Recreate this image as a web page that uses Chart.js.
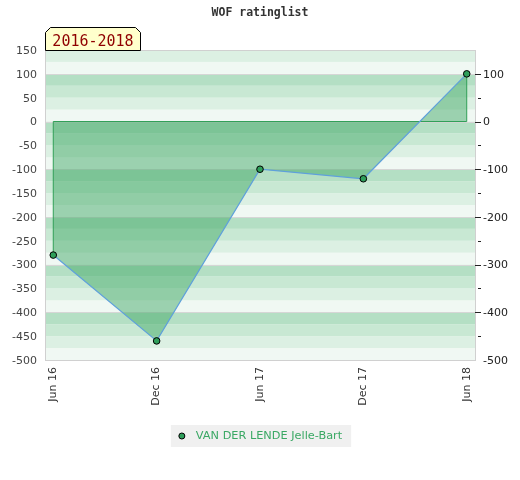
<!DOCTYPE html>
<html>
<head>
<meta charset="utf-8">
<script src="https://cdn.jsdelivr.net/npm/chart.js@4/dist/chart.umd.min.js"></script>
<style>
html,body{margin:0;padding:0;background:#fff;}
#wrap{width:520px;height:480px;}
</style>
</head>
<body>
<div id="wrap"><canvas id="c" width="520" height="480"></canvas></div>
<script>
const categories = ["Jun 16", "Dec 16", "Jun 17", "Dec 17", "Jun 18"];
const ratings = [-280, -460, -100, -120, 100];
const seriesName = "VAN DER LENDE Jelle-Bart";
const chartTitle = "WOF ratinglist";
const periodLabel = "2016-2018";
const yMin = -500, yMax = 150;

const bandColors = {75: '#b4dfc4', 50: '#c8e8d3', 25: '#dcf0e3', 0: '#f0f8f3'};
const FONT = "'DejaVu Sans', sans-serif";

const decorPlugin = {
  id: 'decor',
  beforeDraw(chart) {
    const ctx = chart.ctx, a = chart.chartArea, y = chart.scales.y;
    ctx.save();
    for (let v = yMin; v < yMax; v += 25) {
      const k = ((v % 100) + 100) % 100;
      const top = y.getPixelForValue(v + 25), bot = y.getPixelForValue(v);
      ctx.fillStyle = bandColors[k];
      ctx.fillRect(a.left, top, a.right - a.left, bot - top);
    }
    ctx.strokeStyle = '#d6d6d6';
    ctx.lineWidth = 1;
    for (let v = yMin + 100; v < yMax; v += 100) {
      const py = Math.round(y.getPixelForValue(v)) + 0.5;
      ctx.beginPath(); ctx.moveTo(a.left, py); ctx.lineTo(a.right, py); ctx.stroke();
    }
    ctx.strokeStyle = '#d0d0d0';
    ctx.strokeRect(Math.round(a.left) + 0.5, Math.round(a.top) + 0.5, Math.round(a.right - a.left), Math.round(a.bottom - a.top));
    ctx.restore();
  },
  beforeDatasetDraw(chart, args) {
    if (args.index !== 0) return;
    const ctx = chart.ctx, x = chart.scales.x, y = chart.scales.y;
    const n = ratings.length;
    const x0 = x.getPixelForValue(0), xn = x.getPixelForValue(n - 1), y0 = y.getPixelForValue(0);
    ctx.save();
    ctx.strokeStyle = '#2e9e55';
    ctx.lineWidth = 1;
    ctx.beginPath();
    ctx.moveTo(x0, y.getPixelForValue(ratings[0]));
    ctx.lineTo(x0, y0);
    ctx.lineTo(xn, y0);
    ctx.lineTo(xn, y.getPixelForValue(ratings[n - 1]));
    ctx.stroke();
    ctx.restore();
  },
  afterDraw(chart) {
    const ctx = chart.ctx, a = chart.chartArea, y = chart.scales.y;
    ctx.save();
    // right axis tick marks
    ctx.strokeStyle = '#222';
    ctx.lineWidth = 1;
    for (let v = yMin + 50; v <= 100; v += 50) {
      const py = Math.round(y.getPixelForValue(v)) + 0.5;
      ctx.beginPath();
      if (v % 100 === 0) { ctx.moveTo(a.right, py); ctx.lineTo(a.right + 6, py); }
      else { ctx.moveTo(a.right + 3, py); ctx.lineTo(a.right + 6, py); }
      ctx.stroke();
    }
    // title
    ctx.fillStyle = '#333';
    ctx.font = "bold 11.5px 'DejaVu Sans Mono', monospace";
    ctx.textAlign = 'center';
    ctx.textBaseline = 'middle';
    ctx.fillText(chartTitle, 260, 13);
    // period label box
    const bx = 45.5, by = 27.5, bw = 95, bh = 23, c = 5;
    ctx.beginPath();
    ctx.moveTo(bx, by + bh);
    ctx.lineTo(bx, by + c);
    ctx.lineTo(bx + c, by);
    ctx.lineTo(bx + bw - c, by);
    ctx.lineTo(bx + bw, by + c);
    ctx.lineTo(bx + bw, by + bh);
    ctx.closePath();
    ctx.fillStyle = '#ffffcc';
    ctx.fill();
    ctx.strokeStyle = '#000';
    ctx.stroke();
    ctx.fillStyle = '#8f0000';
    ctx.font = "15px 'DejaVu Sans Mono', monospace";
    ctx.textAlign = 'center';
    ctx.textBaseline = 'alphabetic';
    ctx.fillText(periodLabel, bx + bw / 2, 46);
    // legend
    ctx.font = "11.3px " + FONT;
    const tw = ctx.measureText(seriesName).width;
    const lw = tw + 34, lx = 261 - lw / 2, ly = 425;
    ctx.fillStyle = '#f0f0f0';
    ctx.fillRect(lx, ly, lw, 22);
    ctx.beginPath();
    ctx.arc(lx + 11, ly + 11, 3, 0, Math.PI * 2);
    ctx.fillStyle = '#2e9e5a';
    ctx.fill();
    ctx.strokeStyle = '#000';
    ctx.stroke();
    ctx.fillStyle = '#3aa864';
    ctx.textAlign = 'left';
    ctx.textBaseline = 'middle';
    ctx.fillText(seriesName, lx + 25, ly + 11.5);
    ctx.restore();
  }
};

new Chart(document.getElementById('c'), {
  type: 'line',
  data: {
    datasets: [{
      label: seriesName,
      data: ratings.map((v, i) => ({x: i, y: v})),
      borderColor: 'rgb(95,160,220)',
      borderWidth: 1.2,
      backgroundColor: 'rgba(63,167,100,0.48)',
      fill: 'origin',
      tension: 0,
      pointRadius: 3.3,
      pointBorderWidth: 1,
      pointBorderColor: '#000',
      pointBackgroundColor: '#2e9e5a'
    }]
  },
  options: {
    responsive: false,
    animation: false,
    layout: {padding: {top: 50, left: 0, right: 0, bottom: 0}},
    plugins: {legend: {display: false}, title: {display: false}, tooltip: {enabled: false}},
    scales: {
      x: {
        type: 'linear', min: -0.08, max: 4.08,
        afterBuildTicks: s => { s.ticks = categories.map((c, i) => ({value: i})); },
        ticks: {
          callback: v => categories[v] || '',
          minRotation: 90, maxRotation: 90, padding: 7,
          color: '#333', font: {family: FONT, size: 11}
        },
        grid: {display: false, drawTicks: false},
        border: {display: false},
        afterFit: s => { s.height = 120; }
      },
      y: {
        position: 'left', min: yMin, max: yMax,
        ticks: {stepSize: 50, padding: 8, labelOffset: 1, color: '#444', font: {family: FONT, size: 11}},
        grid: {display: false, drawTicks: false},
        border: {display: false},
        afterFit: s => { s.width = 45; }
      },
      y2: {
        position: 'right', min: yMin, max: yMax,
        ticks: {
          stepSize: 50, padding: 8, labelOffset: 1, color: '#222', font: {family: FONT, size: 11},
          callback: v => (v % 100 === 0 && v <= 100) ? String(v) : ''
        },
        grid: {display: false, drawTicks: false},
        border: {display: false},
        afterFit: s => { s.width = 45; }
      }
    }
  },
  plugins: [decorPlugin]
});
</script>
</body>
</html>
